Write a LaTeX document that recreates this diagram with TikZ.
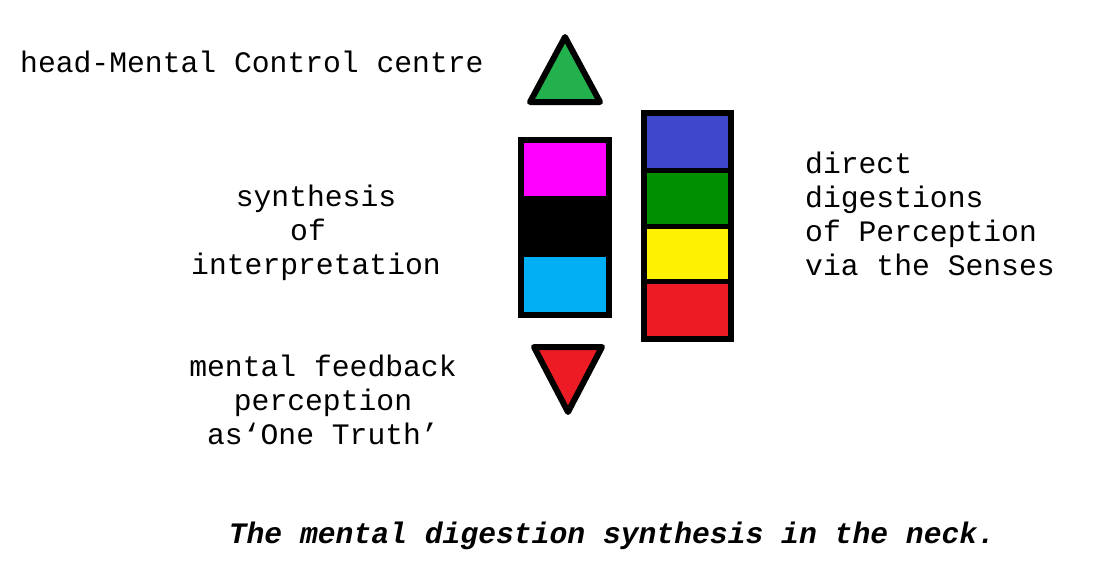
\documentclass[tikz,border=0pt]{standalone}
\usepackage{fontspec}
\setmainfont{Liberation Mono}
\definecolor{tgreen}{HTML}{22B14C}
\definecolor{tred}{HTML}{ED1C24}
\definecolor{cmag}{HTML}{FF00FF}
\definecolor{ccyan}{HTML}{00AEF3}
\definecolor{cblue}{HTML}{3F48CC}
\definecolor{cgreen}{HTML}{008F00}
\definecolor{cyellow}{HTML}{FFF200}
\begin{document}
\begin{tikzpicture}[x=1pt,y=-1pt,
  lbl/.style={inner sep=0pt,font=\fontsize{29.7}{34}\selectfont},
  tri/.style={draw=black,line width=6pt,line join=round}]
\useasboundingbox (0,0) rectangle (1118,578);
% triangles
\draw[tri,fill=tgreen] (565,37) -- (600,102) -- (530,102) -- cycle;
\draw[tri,fill=tred] (534,347) -- (602,347) -- (568,412) -- cycle;
% left box
\fill[cmag] (523,141) rectangle (609,196);
\fill[black] (523,196) rectangle (609,257);
\fill[ccyan] (523,257) rectangle (609,313);
\node[draw=black,line width=6pt,minimum width=88pt,minimum height=175pt,inner sep=0pt] (lbox) at (565,227) {};
% right box
\fill[black] (644,113) rectangle (731,339);
\fill[cblue] (647,116) rectangle (728,168);
\fill[cgreen] (647,173) rectangle (728,224);
\fill[cyellow] (647,229) rectangle (728,279);
\fill[tred] (647,284) rectangle (728,336);
\node[draw=black,line width=6pt,minimum width=87pt,minimum height=226pt,inner sep=0pt] (rbox) at (687.5,226) {};
% texts
\node[lbl,anchor=west] (head) at (20,62) {head-Mental Control centre};
\node[lbl,align=center] (synth) at (316,233) {synthesis\\of\rule{16pt}{0pt}\\interpretation};
\node[lbl,align=left,anchor=west] (direct) at (805,214) {direct\\digestions\\of Perception\\via the Senses};
\node[lbl,align=center] (fb) at (323,400) {mental feedback\\perception\\as‘One Truth’};
\node[lbl,font=\fontsize{29.7}{34}\selectfont\bfseries\itshape] (cap) at (612,536) {The mental digestion synthesis in the neck.};
\end{tikzpicture}
\end{document}
